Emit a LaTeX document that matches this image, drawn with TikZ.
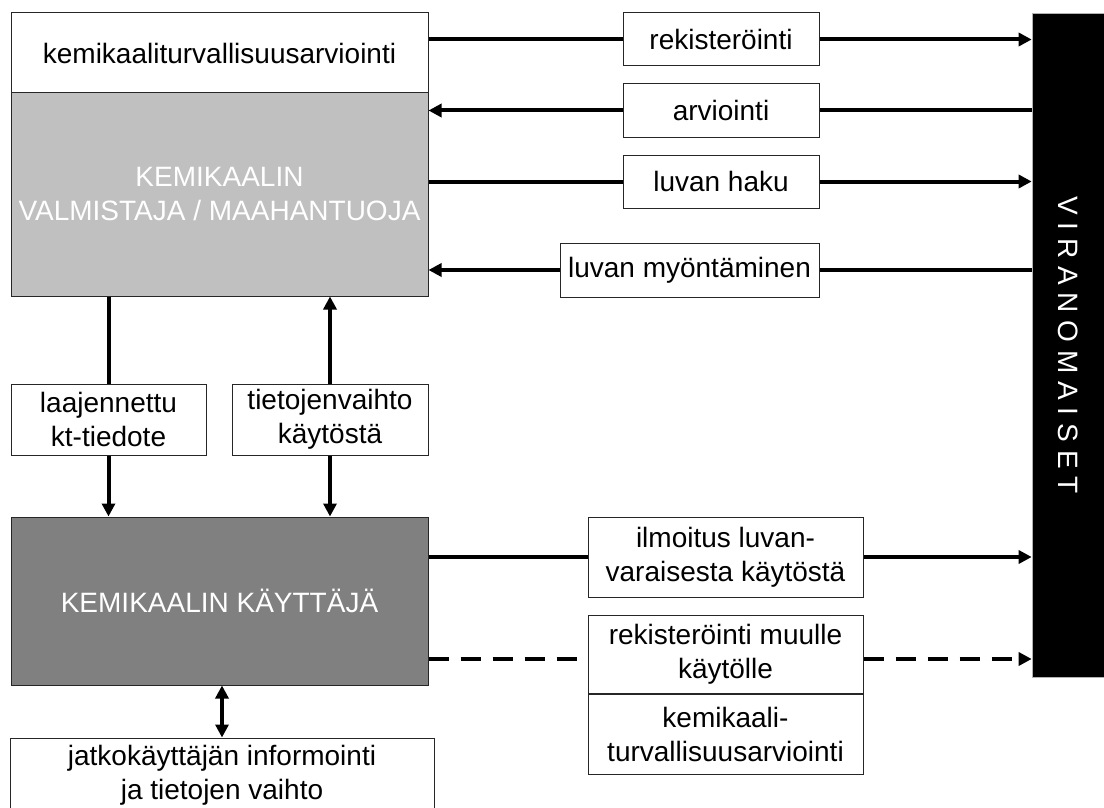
\documentclass[tikz,border=0pt]{standalone}
\usepackage{fontspec}
\setmainfont{Liberation Sans}
\usetikzlibrary{arrows.meta,positioning,calc}
\definecolor{makerGray}{HTML}{C0C0C0}
\definecolor{userGray}{HTML}{808080}

\begin{document}
\begin{tikzpicture}[x=1pt,y=-1pt,box/.style={draw=black!85,line width=1pt,fill=white,inner sep=0pt,align=center,font=\fontsize{28}{34}\selectfont},line/.style={line width=4pt},arr/.style={line width=4pt,-{Triangle[length=13pt,width=13pt]}},twoarr/.style={line width=4pt,{Triangle[length=13pt,width=13pt]}-{Triangle[length=13pt,width=13pt]}},dashArr/.style={arr,dash pattern=on 20pt off 12pt}]
    \useasboundingbox (0,0) rectangle (1104,808);
    % valmistaja / maahantuoja
    \node[box,minimum width=417pt,minimum height=80pt] (kta) at (219.5,53) {kemikaaliturvallisuusarviointi};
    \node[box,fill=makerGray,text=white,minimum width=417pt,minimum height=203pt] (maker) at (219.5,194.5) {KEMIKAALIN\\VALMISTAJA / MAAHANTUOJA};
    % viranomaiset
    \node[fill=black,draw=black!30,line width=0.6pt,minimum width=72pt,minimum height=664pt] (viran) at (1068,345) {};
    \node[rotate=-90,text=white,font=\fontsize{28}{34}\selectfont] at (viran.center) {V I R A N O M A I S E T};
    \node[box,minimum width=196pt,minimum height=53pt] (rek) at (721,39.5) {rekisteröinti};
    \node[box,minimum width=196pt,minimum height=53pt] (arv) at (721,110.5) {arviointi};
    \node[box,minimum width=196pt,minimum height=53pt] (haku) at (721,181.5) {luvan haku};
    \node[box,minimum width=259pt,minimum height=54pt] (lupa) at (689.5,270) {luvan myöntäminen};
    \draw[line] (kta.east |- rek.west)--(rek.west);
    \draw[arr] (rek.east)--(rek.east -| viran.west);
    \draw[line] (arv.east -| viran.west)--(arv.east);
    \draw[arr] (arv.west)--(arv.west -| maker.east);
    \draw[line] (maker.east |- haku.west)--(haku.west);
    \draw[arr] (haku.east)--(haku.east -| viran.west);
    \draw[line] (lupa.east -| viran.west)--(lupa.east);
    \draw[arr] (lupa.west)--(lupa.west -| maker.east);
    % kayttaja
    \node[box,fill=userGray,text=white,minimum width=417pt,minimum height=168pt] (user) at (219.5,601) {KEMIKAALIN KÄYTTÄJÄ};
    \node[box,minimum width=195pt,minimum height=71pt] (ktt) at (108.5,419.5) {laajennettu\\kt-tiedote};
    \node[box,minimum width=196pt,minimum height=71pt] (vaihto) at (330,419.5) {tietojenvaihto\\käytöstä};
    \draw[line] (ktt.north |- maker.south)--(ktt.north);
    \draw[arr] (ktt.south)--(ktt.south |- user.north);
    \draw[arr] (vaihto.north)--(vaihto.north |- maker.south);
    \draw[arr] (vaihto.south)--(vaihto.south |- user.north);
    \node[box,minimum width=275pt,minimum height=80pt] (ilm) at (725.5,557) {ilmoitus luvan-\\varaisesta käytöstä};
    \node[box,minimum width=275pt,minimum height=78pt] (muu) at (725.5,654) {rekisteröinti muulle\\käytölle};
    \node[box,minimum width=275pt,minimum height=80pt,below=0pt of muu] (kta2) {kemikaali-\\turvallisuusarviointi};
    \draw[line] (user.east |- ilm.west)--(ilm.west);
    \draw[arr] (ilm.east)--(ilm.east -| viran.west);
    \draw[line,dash pattern=on 20pt off 12pt] (user.east |- 0,659)--(muu.west |- 0,659);
    \draw[dashArr] (muu.east |- 0,659)--(viran.west |- 0,659);
    % jatkokayttaja
    \node[box,minimum width=424pt,minimum height=74pt] (jatko) at (222,775) {jatkokäyttäjän informointi\\ja tietojen vaihto};
    \draw[twoarr] (jatko.north |- user.south)--(jatko.north);
  \end{tikzpicture}
\end{document}
